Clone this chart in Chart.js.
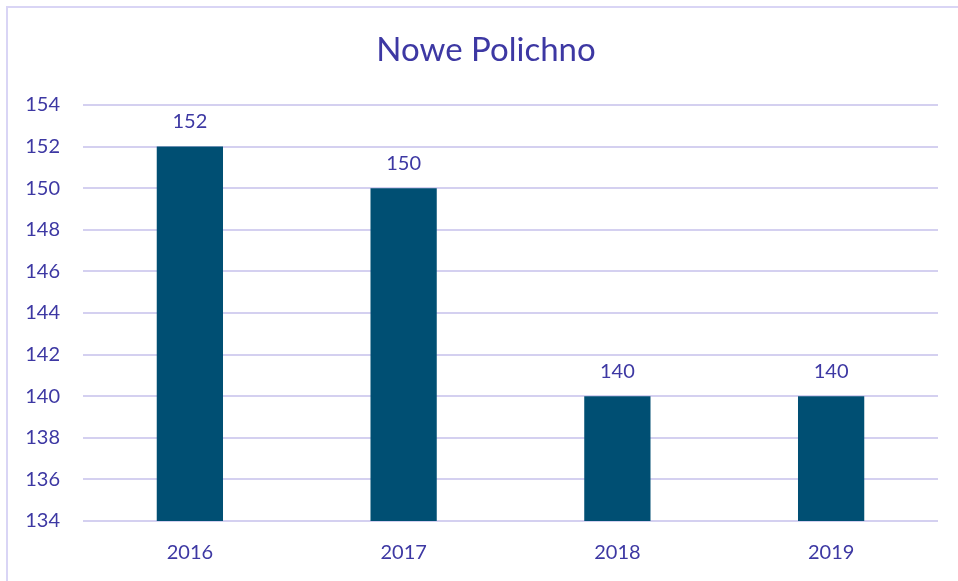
<!DOCTYPE html>
<html>
<head>
<meta charset="utf-8">
<script src="https://cdn.jsdelivr.net/npm/chart.js@4.4.0/dist/chart.umd.min.js"></script>
<style>
    html, body { margin: 0; padding: 0; background: #fff; }
    #wrap { position: relative; width: 958px; height: 581px; overflow: hidden; }
    #frame {
        position: absolute; left: 6px; top: 6px; width: 1000px; height: 1000px;
        border-left: 2px solid #d9d5f5; border-top: 2px solid #d9d5f5;
        pointer-events: none;
    }
</style>
</head>
<body>
<div id="wrap">
    <canvas id="chart" width="958" height="581"></canvas>
    <div id="frame"></div>
</div>
<script>
// Data
const categories = ['2016', '2017', '2018', '2019'];
const values = [152, 150, 140, 140];
const yTicks = [134, 136, 138, 140, 142, 144, 146, 148, 150, 152, 154];
const chartTitle = 'Nowe Polichno';

const textColor = '#3d38a3';
const barColor = '#004f73';
const gridColor = '#d4d0f0';

// Title centred on the whole frame, value labels above bars
const decorations = {
    id: 'decorations',
    afterDraw(chart) {
        const ctx = chart.ctx;
        ctx.save();
        ctx.fillStyle = textColor;
        ctx.textAlign = 'center';
        ctx.textBaseline = 'middle';
        ctx.font = '33px Lato, sans-serif';
        ctx.fillText(chartTitle, 486, 50);
        ctx.font = '20px Lato, sans-serif';
        const meta = chart.getDatasetMeta(0);
        meta.data.forEach((bar, i) => {
            ctx.fillText(values[i], bar.x, bar.y - 25);
        });
        ctx.restore();
    }
};

new Chart(document.getElementById('chart'), {
    type: 'bar',
    data: {
        labels: categories,
        datasets: [{
            data: values,
            backgroundColor: barColor,
            categoryPercentage: 1,
            barPercentage: 0.31
        }]
    },
    options: {
        responsive: false,
        animation: false,
        layout: { padding: { left: 0, right: 20, top: 105, bottom: 0 } },
        plugins: {
            legend: { display: false },
            tooltip: { enabled: false },
            title: { display: false }
        },
        scales: {
            x: {
                grid: { display: false },
                border: { display: false },
                ticks: {
                    color: textColor,
                    font: { family: 'Lato, sans-serif', size: 20 },
                    padding: 12
                },
                afterFit(scale) { scale.height = 60; }
            },
            y: {
                min: 134,
                max: 154,
                afterBuildTicks(scale) {
                    scale.ticks = yTicks.map(v => ({ value: v }));
                },
                grid: { color: gridColor, lineWidth: 2, drawTicks: false },
                border: { display: false },
                ticks: {
                    color: textColor,
                    font: { family: 'Lato, sans-serif', size: 20 },
                    padding: 23
                },
                afterFit(scale) { scale.width = 83; }
            }
        }
    },
    plugins: [decorations]
});
</script>
</body>
</html>
